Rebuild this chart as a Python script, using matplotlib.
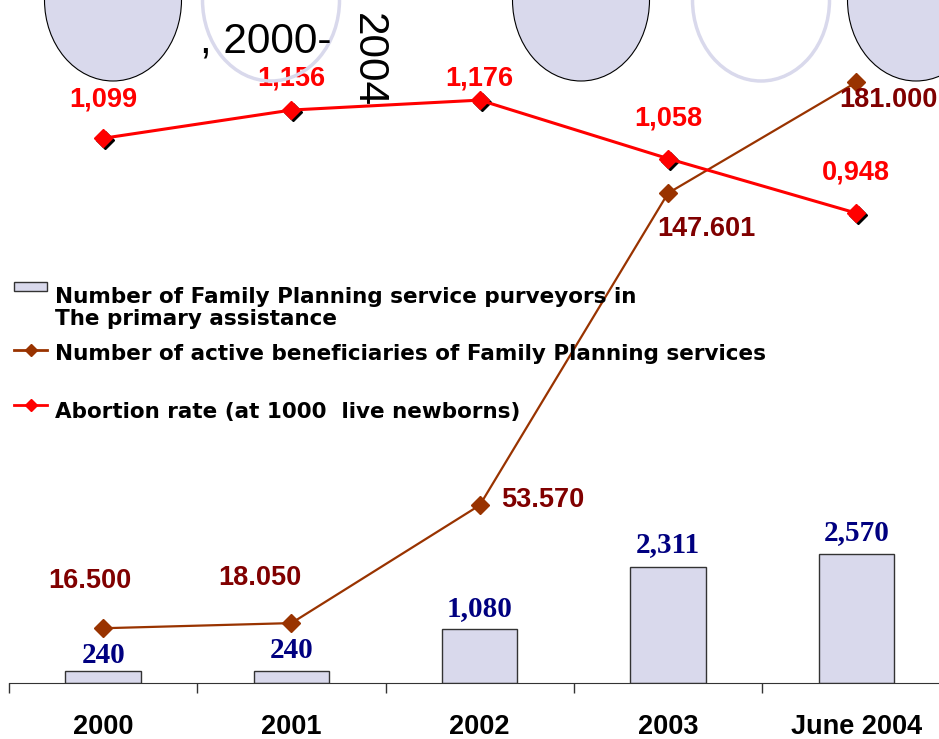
import numpy as np
import matplotlib.pyplot as plt
import matplotlib.transforms as mtransforms
from matplotlib.patches import Ellipse, Rectangle
from matplotlib.lines import Line2D

plt.rcParams["font.family"] = ["Liberation Sans", "DejaVu Sans"]

# data
categories = ["2000", "2001", "2002", "2003", "June 2004"]
purveyors = [240, 240, 1080, 2311, 2570]
purveyor_labels = ["240", "240", "1,080", "2,311", "2,570"]
beneficiaries = [16500, 18050, 53570, 147601, 181000]
beneficiary_labels = ["16.500", "18.050", "53.570", "147.601", "181.000"]
abortion_rate = [1.099, 1.156, 1.176, 1.058, 0.948]
abortion_labels = ["1,099", "1,156", "1,176", "1,058", "0,948"]

BAR_FILL = "#d9d9ec"
BROWN = "#993300"
DARKRED = "#800000"
NAVY = "#000080"

W, H = 939, 739
fig = plt.figure(figsize=(W / 100, H / 100), dpi=100)


def fx(x):
    return x / W


def fy(y):  # pixel from top -> figure fraction
    return 1 - y / H


# decorative ellipses along the top
for cx, filled in [(113, True), (271, False), (581, True), (761, False), (916, True)]:
    if filled:
        e = Ellipse((fx(cx), fy(0)), 137 / W, 162 / H, transform=fig.transFigure,
                    facecolor=BAR_FILL, edgecolor="black", linewidth=0.8, zorder=0)
    else:
        e = Ellipse((fx(cx), fy(0)), 137 / W, 162 / H, transform=fig.transFigure,
                    facecolor="none", edgecolor=BAR_FILL, linewidth=2.5, zorder=0)
    fig.patches.append(e)

fig.text(fx(200), fy(52), ", 2000-", fontsize=30.5, va="baseline", ha="left")
fig.text(fx(368), fy(60), "2004", fontsize=30.5, rotation=-90, va="center", ha="center")

ax = fig.add_axes([fx(9), 56 / H, 930 / W, 683 / H])
ax.patch.set_visible(False)
ax2 = ax.twinx()
ax3 = ax.twinx()

x = np.arange(len(categories))

# bars
ax.bar(x, purveyors, width=0.4, color=BAR_FILL, edgecolor="#333333", linewidth=1.0, zorder=2)
ax.set_ylim(0, 13600)
bar_offsets = [8, 13, 13, 15, 14]
for xi, v, lab, off in zip(x, purveyors, purveyor_labels, bar_offsets):
    ax.annotate(lab, (xi, v), xytext=(0, off), textcoords="offset pixels",
                ha="center", va="baseline", fontsize=21, fontweight="bold",
                color=NAVY, family=["Liberation Serif", "DejaVu Serif"])

# beneficiaries line
ax2.plot(x, beneficiaries, color=BROWN, linewidth=1.6, marker="D", markersize=9,
         markeredgecolor=BROWN, zorder=3)
ax2.set_ylim(0, 205800)
ben_offsets = [(-13, 40), (-32, 38), (63, -2), (38, -43), (32, -25)]
for xi, v, lab, (dx, dy) in zip(x, beneficiaries, beneficiary_labels, ben_offsets):
    ax2.annotate(lab, (xi, v), xytext=(dx, dy), textcoords="offset pixels",
                 ha="center", va="baseline", fontsize=19.5, fontweight="bold",
                 color=DARKRED, annotation_clip=False)

# abortion rate line with shadowed markers
shadow = mtransforms.offset_copy(ax3.transData, fig=fig, x=2, y=-2, units="dots")
ax3.plot(x, abortion_rate, linestyle="none", marker="D", markersize=9,
         color="black", transform=shadow, zorder=3)
ax3.plot(x, abortion_rate, color="red", linewidth=2.2, marker="D", markersize=9,
         markeredgecolor="red", zorder=4)
ax3.set_ylim(0, 1.378)
rate_offsets = [32, 25, 15, 33, 34]
for xi, v, lab, dy in zip(x, abortion_rate, abortion_labels, rate_offsets):
    ax3.annotate(lab, (xi, v), xytext=(0, dy), textcoords="offset pixels",
                 ha="center", va="baseline", fontsize=19.5, fontweight="bold",
                 color="red")

# axes styling
for a in (ax, ax2, ax3):
    for s in a.spines.values():
        s.set_visible(False)
    a.set_yticks([])
ax.spines["bottom"].set_visible(True)
ax.spines["bottom"].set_color("#333333")
ax.set_xticks(np.arange(-0.5, 5, 1))
ax.set_xticklabels([])
ax.set_xticks(x, minor=True)
ax.set_xticklabels(categories, minor=True, fontsize=19.5, fontweight="bold")
ax.tick_params(axis="x", which="major", direction="out", length=7, width=1, color="#333333")
ax.tick_params(axis="x", which="minor", length=0, pad=22)
ax.set_xlim(-0.5, -0.5 + 930 / 188.3)

# legend drawn by hand
fig.patches.append(Rectangle((fx(14), fy(291)), 33 / W, 9 / H, transform=fig.transFigure,
                             facecolor=BAR_FILL, edgecolor="#333333", linewidth=1.0))
for yy, col in [(350, BROWN), (405, "red")]:
    fig.add_artist(Line2D([fx(14), fx(47)], [fy(yy), fy(yy)], color=col, linewidth=2,
                          transform=fig.transFigure))
    fig.add_artist(Line2D([fx(30.5)], [fy(yy)], marker="D", markersize=6.5, color=col,
                          linestyle="none", transform=fig.transFigure))

legend_lines = [
    (303, "Number of Family Planning service purveyors in"),
    (325, "The primary assistance"),
    (360, "Number of active beneficiaries of Family Planning services"),
    (418, "Abortion rate (at 1000  live newborns)"),
]
for yy, txt in legend_lines:
    fig.text(fx(55), fy(yy), txt, fontsize=15.5, fontweight="bold", va="baseline", ha="left",
             family=["DejaVu Sans"])

fig.savefig("out.png", dpi=100)
